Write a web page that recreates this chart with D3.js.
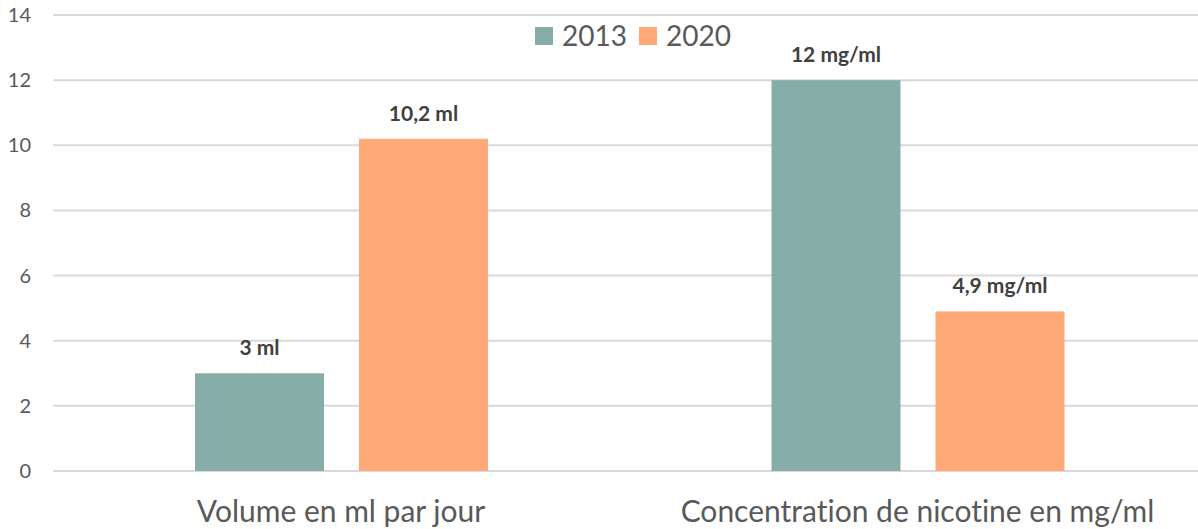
<!DOCTYPE html>
<html>
<head>
<meta charset="utf-8">
<script src="https://cdn.jsdelivr.net/npm/d3@7"></script>
<style>
  body { margin: 0; background: #fff; }
  svg { display: block; font-family: Lato, "Open Sans", sans-serif; font-variant-ligatures: none; }
</style>
</head>
<body>
<div id="chart"></div>
<script>
var categories = ["Volume en ml par jour", "Concentration de nicotine en mg/ml"];
var years = ["2013", "2020"];
var values2013 = [3, 12];
var values2020 = [10.2, 4.9];
var labels2013 = ["3 ml", "12 mg/ml"];
var labels2020 = ["10,2 ml", "4,9 mg/ml"];
var yTicks = [0, 2, 4, 6, 8, 10, 12, 14];
var colors = ["#87ADA9", "#FFA878"];

var width = 1198, height = 529;
var margin = {top: 15, left: 53, bottom: 58};

var svg = d3.select("#chart").append("svg")
    .attr("width", width).attr("height", height);

var y = d3.scaleLinear().domain([0, 14]).range([height - margin.bottom, margin.top]);
var x0 = d3.scaleBand().domain(categories).range([margin.left, 1206]).padding(0);
var x1 = d3.scaleBand().domain(years).range([142, 435]).paddingInner(35 / 164).paddingOuter(0);

// gridlines
svg.append("g").selectAll("line")
  .data(yTicks).enter().append("line")
    .attr("x1", margin.left).attr("x2", width)
    .attr("y1", function(d) { return y(d); })
    .attr("y2", function(d) { return y(d); })
    .attr("stroke", "#D9D9D9").attr("stroke-width", 2);

// y tick labels
svg.append("g").selectAll("text")
  .data(yTicks).enter().append("text")
    .attr("x", 31).attr("y", function(d) { return y(d); })
    .attr("dy", "0.35em").attr("text-anchor", "end")
    .attr("fill", "#595959").style("font-size", "20px")
    .text(function(d) { return d; });

var rows = categories.map(function(c, i) {
  return [
    {cat: c, year: "2013", value: values2013[i], label: labels2013[i], color: colors[0]},
    {cat: c, year: "2020", value: values2020[i], label: labels2020[i], color: colors[1]}
  ];
});
var flat = d3.merge(rows);

var bars = svg.append("g").selectAll("g")
  .data(flat).enter().append("g");

bars.append("rect")
    .attr("x", function(d) { return x0(d.cat) + x1(d.year); })
    .attr("width", x1.bandwidth())
    .attr("y", function(d) { return y(d.value); })
    .attr("height", function(d) { return y(0) - y(d.value); })
    .attr("fill", function(d) { return d.color; });

bars.append("text")
    .attr("x", function(d) { return x0(d.cat) + x1(d.year) + x1.bandwidth() / 2; })
    .attr("y", function(d) { return y(d.value) - 18; })
    .attr("text-anchor", "middle")
    .attr("fill", "#404040").style("font-size", "21px").style("font-weight", "bold")
    .text(function(d) { return d.label; });

// category labels
svg.append("g").selectAll("text")
  .data(categories).enter().append("text")
    .attr("x", function(d) { return x0(d) + 288; })
    .attr("y", 522)
    .attr("text-anchor", "middle")
    .attr("fill", "#595959").style("font-size", "30px")
    .text(function(d) { return d; });

// legend
var legendX = [535, 639];
var legend = svg.append("g").selectAll("g")
  .data(years).enter().append("g")
    .attr("transform", function(d, i) { return "translate(" + legendX[i] + ",27)"; });
legend.append("rect").attr("width", 18).attr("height", 18)
    .attr("fill", function(d, i) { return colors[i]; });
legend.append("text").attr("x", 27).attr("y", 9).attr("dy", "0.35em")
    .attr("fill", "#595959").style("font-size", "28px")
    .text(function(d) { return d; });
</script>
</body>
</html>
